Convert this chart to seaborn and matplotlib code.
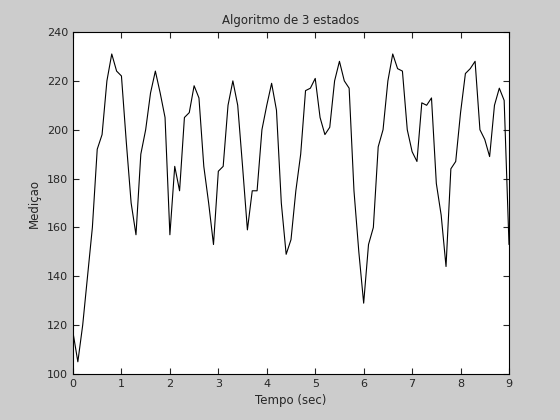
import numpy as np
import matplotlib
matplotlib.use("Agg")
import matplotlib.pyplot as plt
import seaborn as sns

tempo = np.round(np.arange(0, 91) * 0.1, 1)
medicao = [117, 105, 120, 140, 160, 192, 198, 220, 231, 224,
           222, 195, 170, 157, 190, 200, 215, 224, 215, 205,
           157, 185, 175, 205, 207, 218, 213, 185, 170, 153,
           183, 185, 210, 220, 210, 185, 159, 175, 175, 200,
           210, 219, 208, 170, 149, 155, 175, 190, 216, 217,
           221, 205, 198, 201, 220, 228, 220, 217, 175, 150,
           129, 153, 160, 193, 200, 220, 231, 225, 224, 200,
           191, 187, 211, 210, 213, 178, 165, 144, 184, 187,
           207, 223, 225, 228, 200, 196, 189, 210, 217, 212, 153]

sns.set_style("ticks")
plt.rcParams['font.family'] = ['DejaVu Sans']

fig = plt.figure(figsize=(5.6, 4.2), dpi=100, facecolor="#cccccc")
ax = fig.add_axes([73/560, 46/420, 436/560, 342/420])
sns.lineplot(x=tempo, y=medicao, color="black", linewidth=0.8, ax=ax)

ax.set_xlim(0, 9)
ax.set_ylim(100, 240)
ax.set_xticks(range(0, 10))
ax.set_yticks(range(100, 241, 20))
ax.tick_params(direction="in", top=True, right=True, labelsize=8, length=4)
for s in ax.spines.values():
    s.set_visible(True)
    s.set_color("black")
ax.set_title("Algoritmo de 3 estados", fontsize=8.5)
ax.set_xlabel("Tempo (sec)", fontsize=8.5)
ax.set_ylabel("Mediçao", fontsize=8.5)

fig.savefig("out.png", facecolor=fig.get_facecolor())
